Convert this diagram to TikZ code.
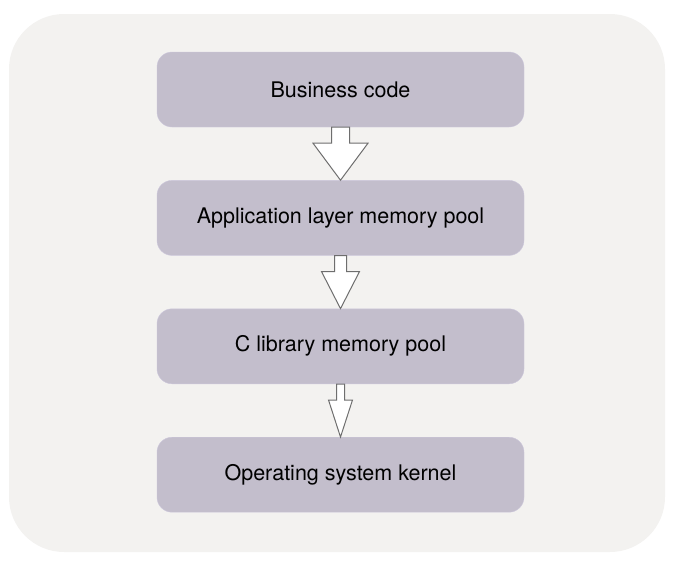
\documentclass[tikz,border=0pt]{standalone}
\usepackage{fontspec}
\setmainfont{TeX Gyre Heros}
\usetikzlibrary{positioning,calc}
\definecolor{panelgrey}{RGB}{243,242,240}
\definecolor{boxlilac}{RGB}{195,190,204}
\definecolor{boxedge}{RGB}{205,200,220}
\definecolor{arrowgrey}{RGB}{110,110,110}
\tikzstyle{layer} = [rectangle, rounded corners=15pt, draw=boxedge, fill=boxlilac, minimum width=367pt, minimum height=75pt, inner sep=0pt, font=\fontsize{21.5}{25}\selectfont]
\tikzstyle{hollow} = [draw=arrowgrey, fill=white, line width=1pt, line join=miter]
% block arrow: from, to, shaft half width, head half width, head length
\newcommand{\blockdown}[5]{%
  \draw[hollow] ($(#1.south)+(-#3,0)$) -- ($(#1.south)+(#3,0)$) -- ($(#2.north)+(#3,-#5)$) -- ($(#2.north)+(#4,-#5)$) -- (#2.north) -- ($(#2.north)+(-#4,-#5)$) -- ($(#2.north)+(-#3,-#5)$) -- cycle;}

\begin{document}
\begin{tikzpicture}[x=1pt, y=-1pt]
    \useasboundingbox (0,0) rectangle (680,565);
    \fill[panelgrey, rounded corners=55pt] (9,14) rectangle (665,552);

    \node (business) [layer] at (340.5,89.5) {Business code};
    \node (apppool) [layer, below=53pt of business] {Application layer memory pool};
    \node (clibpool) [layer, below=53pt of apppool] {C library memory pool};
    \node (kernel) [layer, below=53pt of clibpool] {Operating system kernel};

    \blockdown{business}{apppool}{9}{27.5}{37}
    \blockdown{apppool}{clibpool}{6}{19}{37}
    \blockdown{clibpool}{kernel}{4}{12}{37}

\end{tikzpicture}
\end{document}
